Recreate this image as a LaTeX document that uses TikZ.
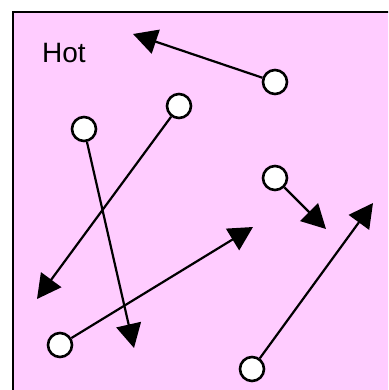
\documentclass[tikz,border=0pt]{standalone}
\usepackage{fontspec}
\setmainfont{Liberation Sans}
\usetikzlibrary{arrows.meta}

\begin{document}
\begin{tikzpicture}[
    x=1pt, y=-1pt,
    particle/.style={circle, draw, line width=2.6pt, fill=white, inner sep=0pt, minimum size=24pt},
    arrow/.style={-{Triangle[length=24pt, width=25pt]}, line width=2.2pt}
]
\clip (0,0) rectangle (388,390);
\definecolor{hotpink}{RGB}{255,204,255}
\draw[line width=2.2pt, fill=hotpink] (13,12) rectangle (420,420);
\node[font=\fontsize{28}{32}\selectfont] (hot) at (64,53) {Hot};

% particles
\node[particle] (p1) at (275,82) {};
\node[particle] (p2) at (179,106) {};
\node[particle] (p3) at (84,129) {};
\node[particle] (p4) at (275,178) {};
\node[particle] (p5) at (60,345) {};
\node[particle] (p6) at (252,369) {};

% arrow tips
\coordinate (t1) at (133,34);
\coordinate (t2) at (37,299);
\coordinate (t3) at (134,348);
\coordinate (t4) at (326,229);
\coordinate (t5) at (253,227);
\coordinate (t6) at (373,203);

\draw[arrow] (p1) -- (t1);
\draw[arrow] (p2) -- (t2);
\draw[arrow] (p3) -- (t3);
\draw[arrow] (p4) -- (t4);
\draw[arrow] (p5) -- (t5);
\draw[arrow] (p6) -- (t6);
\end{tikzpicture}
\end{document}
